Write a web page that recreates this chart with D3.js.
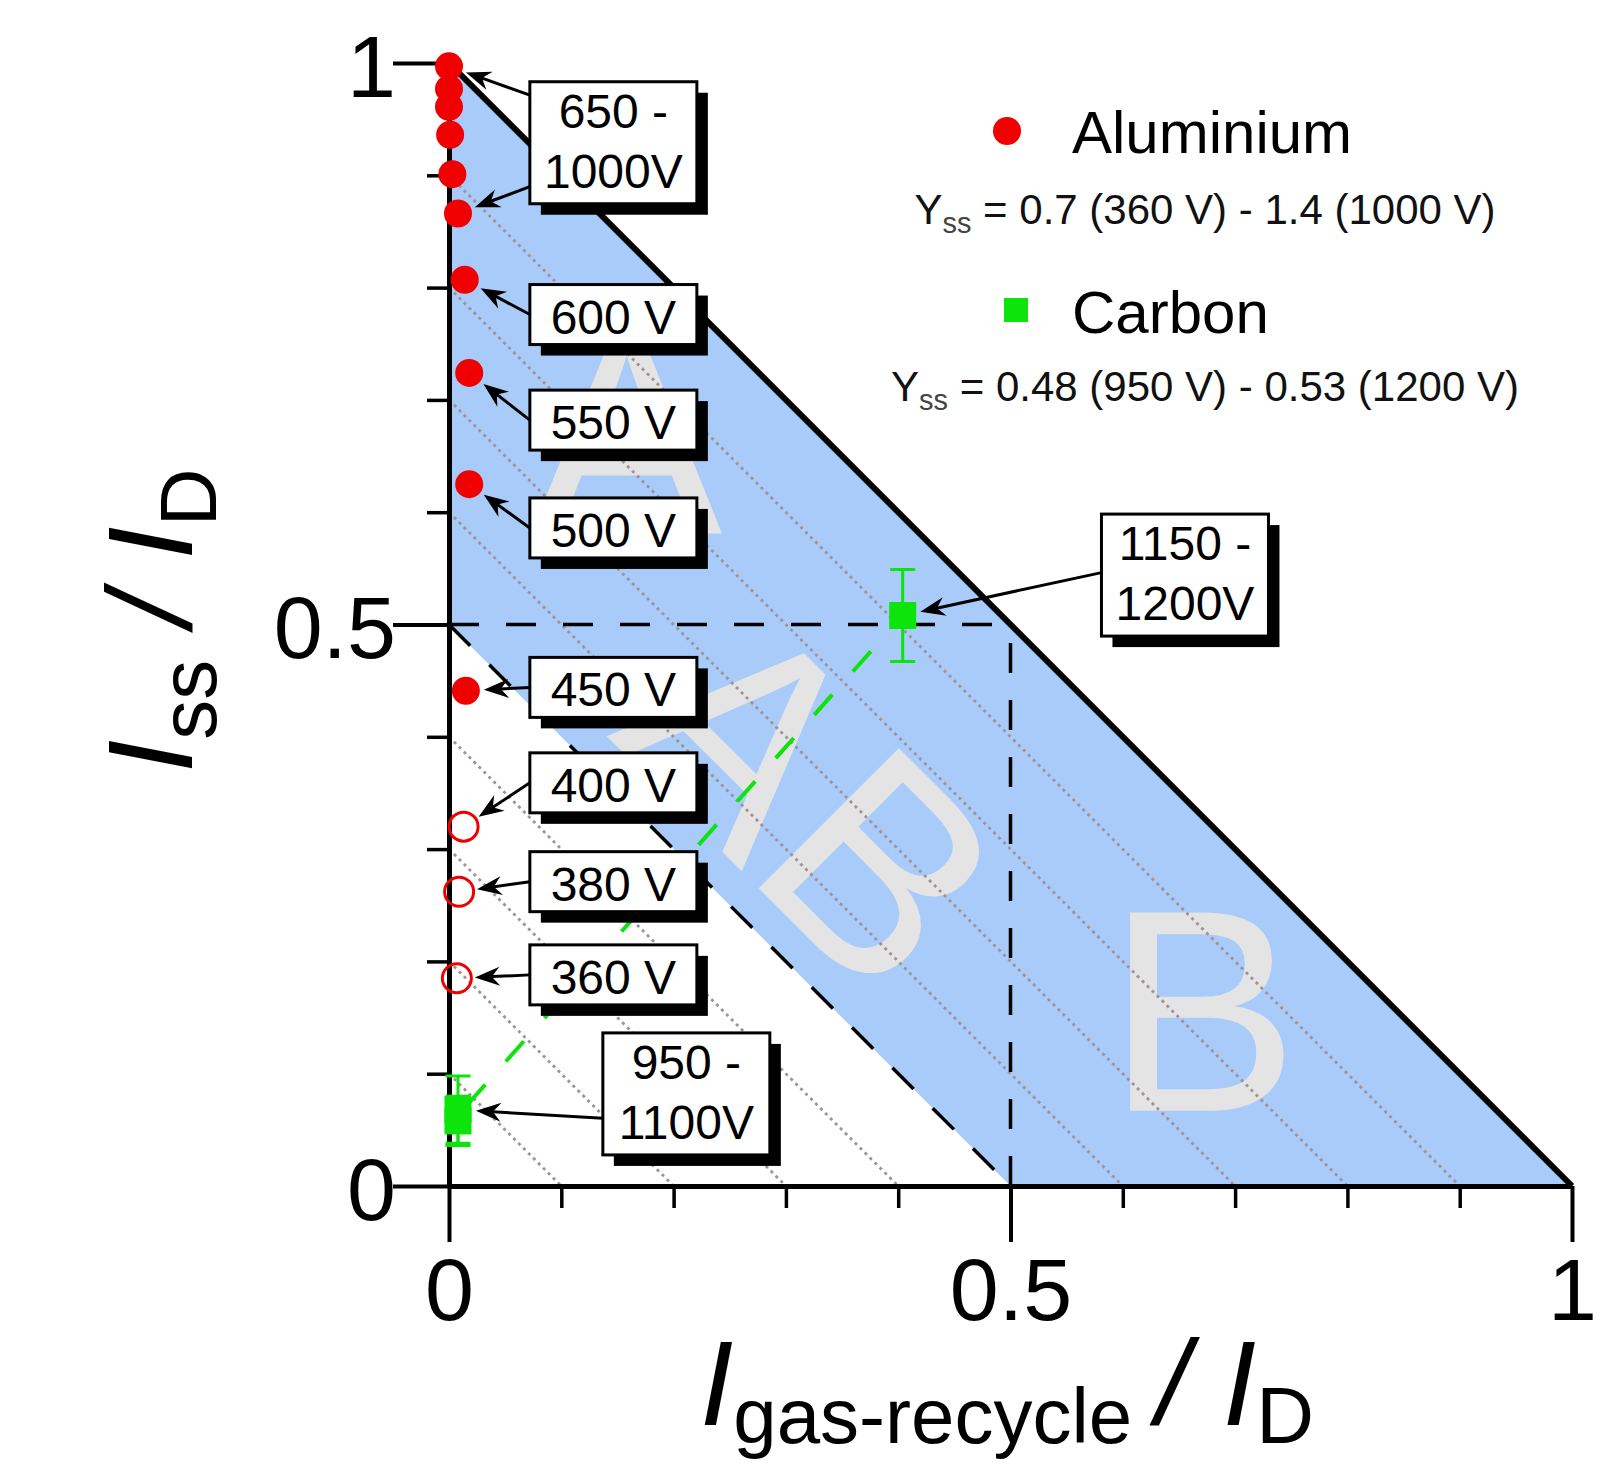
<!DOCTYPE html>
<html>
<head>
<meta http-equiv="Content-Type" content="text/html; charset=UTF-8" />
<title>Iss / ID vs Igas-recycle / ID</title>
<script type="text/javascript" src="https://d3js.org/d3.v7.min.js"></script>
<style type="text/css">
 body { margin: 0; background: #fff; }
 svg { display: block; font-family: Arial, "Liberation Sans", Helvetica, sans-serif; }
 .axis path, .axis line { stroke: #000; }
 .axis text { fill: #000; }
</style>
</head>
<body>
<script type="text/javascript">

 var width = 1620;
 var height = 1467;

 // axis ticks
 var majorTicks = [0, 0.5, 1];
 var minorTicks = [0.1, 0.2, 0.3, 0.4, 0.6, 0.7, 0.8, 0.9];

 // iso lines x + y = c (grey dotted)
 var isoLevels = [0.1, 0.2, 0.3, 0.4, 0.6, 0.7, 0.8, 0.9];

 // shaded band 0.5 <= x + y <= 1
 var bandCorners = [[0, 0.5], [0, 1], [1, 0], [0.5, 0]];
 var boundary = [[0, 1], [1, 0]];
 var guides = [
     [[0, 0.5], [0.5, 0.5]],
     [[0.5, 0], [0.5, 0.5]],
     [[0, 0.5], [0.5, 0]]
 ];

 // region letters
 var regionText = ['A', 'AB', 'B'];
 var regionX = [0.158, 0.261, 0.671];
 var regionY = [0.581, 0.280, 0.067];
 var regionRot = [0, 45, 0];

 // aluminium target
 var alX = [0.000, 0.000, 0.000, 0.001, 0.003, 0.008, 0.014, 0.018, 0.018, 0.015, 0.013, 0.009, 0.007];
 var alY = [0.997, 0.977, 0.961, 0.936, 0.901, 0.866, 0.807, 0.724, 0.625, 0.441, 0.320, 0.262, 0.185];
 var alOpen = [false, false, false, false, false, false, false, false, false, false, true, true, true];

 // carbon target
 var cX = [0.008, 0.008, 0.404];
 var cY = [0.068, 0.058, 0.508];
 var cErr = [0.030, 0.022, 0.041];

 // voltage call-outs
 var labelText = [['650 -', '1000V'], ['600 V'], ['550 V'], ['500 V'], ['450 V'],
                  ['400 V'], ['380 V'], ['360 V'], ['950 -', '1100V'], ['1150 -', '1200V']];
 var labelX = [0.072, 0.072, 0.072, 0.072, 0.072, 0.072, 0.072, 0.072, 0.137, 0.581];
 var labelY = [0.929, 0.776, 0.682, 0.586, 0.444, 0.359, 0.271, 0.188, 0.082, 0.544];
 // [label index, start position on box edge (0 top .. 1 bottom), series, point index]
 var arrows = [[0, 0.11, 'al', 0], [0, 0.86, 'al', 5], [1, 0.5, 'al', 6], [2, 0.5, 'al', 7],
               [3, 0.5, 'al', 8], [4, 0.5, 'al', 9], [5, 0.5, 'al', 10], [6, 0.5, 'al', 11],
               [7, 0.5, 'al', 12], [8, 0.7, 'c', 0], [9, 0.48, 'c', 2]];

 var legendNames = ['Aluminium', 'Carbon'];
 var legendYss = [' = 0.7 (360 V) - 1.4 (1000 V)', ' = 0.48 (950 V) - 0.53 (1200 V)'];

 var blue = '#a9cbfa';
 var red = '#f00000';
 var green = '#0ce40c';

 var x = d3.scaleLinear().domain([0, 1]).range([449, 1572]);
 var y = d3.scaleLinear().domain([0, 1]).range([1186, 63]);

 var svg = d3.select('body')
     .append('svg')
     .attr('width', width)
     .attr('height', height);

 var line = d3.line().x(d => x(d[0])).y(d => y(d[1]));

 svg.append('path')
     .datum(bandCorners)
     .attr('d', line.curve(d3.curveLinearClosed))
     .attr('fill', blue);
 line.curve(d3.curveLinear);

 svg.selectAll('.region')
     .data(regionText)
     .enter()
     .append('text')
     .attr('class', 'region')
     .attr('transform', (d, i) => 'translate(' + x(regionX[i]) + ',' + y(regionY[i]) + ') rotate(' + regionRot[i] + ')')
     .attr('text-anchor', 'middle')
     .attr('font-size', 288)
     .attr('fill', '#e4e4e4')
     .text(d => d);

 svg.selectAll('.iso')
     .data(isoLevels)
     .enter()
     .append('line')
     .attr('class', 'iso')
     .attr('x1', x(0))
     .attr('y1', d => y(d))
     .attr('x2', d => x(d))
     .attr('y2', y(0))
     .attr('stroke', '#a09393')
     .attr('stroke-width', 2.8)
     .attr('stroke-dasharray', '3,4');

 svg.selectAll('.guide')
     .data(guides)
     .enter()
     .append('path')
     .attr('class', 'guide')
     .attr('d', line)
     .attr('fill', 'none')
     .attr('stroke', '#000')
     .attr('stroke-width', 3.5)
     .attr('stroke-dasharray', '30,27');

 svg.append('path')
     .datum(boundary)
     .attr('d', line)
     .attr('stroke', '#000')
     .attr('stroke-width', 6);

 // axes: minor ticks, then major ticks with labels
 var fmt = d3.format('~g');

 var gxMinor = svg.append('g')
     .attr('class', 'axis')
     .attr('transform', 'translate(0,' + y(0) + ')')
     .call(d3.axisBottom(x).tickValues(minorTicks).tickSize(22).tickFormat(''));
 gxMinor.select('.domain').remove();
 gxMinor.selectAll('line').attr('stroke-width', 3.5);

 var gyMinor = svg.append('g')
     .attr('class', 'axis')
     .attr('transform', 'translate(' + x(0) + ',0)')
     .call(d3.axisLeft(y).tickValues(minorTicks).tickSize(22).tickFormat(''));
 gyMinor.select('.domain').remove();
 gyMinor.selectAll('line').attr('stroke-width', 3.5);

 var gx = svg.append('g')
     .attr('class', 'axis')
     .attr('transform', 'translate(0,' + y(0) + ')')
     .call(d3.axisBottom(x).tickValues(majorTicks).tickSize(56).tickSizeOuter(0).tickPadding(16).tickFormat(fmt));
 gx.attr('font-size', 88).attr('font-family', null);
 gx.select('.domain').attr('stroke-width', 5);
 gx.selectAll('line').attr('stroke-width', 4);

 var gy = svg.append('g')
     .attr('class', 'axis')
     .attr('transform', 'translate(' + x(0) + ',0)')
     .call(d3.axisLeft(y).tickValues(majorTicks).tickSize(56).tickSizeOuter(0).tickPadding(-3).tickFormat(fmt));
 gy.attr('font-size', 88).attr('font-family', null);
 gy.select('.domain').attr('stroke-width', 5);
 gy.selectAll('line').attr('stroke-width', 4);
 gy.selectAll('text').attr('dy', '0.38em');

 // carbon: guide line between the two points, error bars and squares
 svg.append('line')
     .attr('x1', x(cX[0]))
     .attr('y1', y((cY[0] + cY[1]) / 2))
     .attr('x2', x(cX[2]))
     .attr('y2', y(cY[2]))
     .attr('stroke', green)
     .attr('stroke-width', 4)
     .attr('stroke-dasharray', '27,31')
     .attr('stroke-dashoffset', -14);

 var carbon = svg.selectAll('.carbon')
     .data(cX)
     .enter()
     .append('g')
     .attr('class', 'carbon')
     .attr('transform', (d, i) => 'translate(' + x(d) + ',0)');

 carbon.append('path')
     .attr('d', (d, i) => {
         var t = y(cY[i] + cErr[i]), b = y(cY[i] - cErr[i]);
         return 'M-12.5,' + t + 'H12.5M0,' + t + 'V' + b + 'M-12.5,' + b + 'H12.5';
     })
     .attr('stroke', green)
     .attr('stroke-width', 3)
     .attr('fill', 'none');

 carbon.append('rect')
     .attr('x', -13.5)
     .attr('y', (d, i) => y(cY[i]) - 13.5)
     .attr('width', 27)
     .attr('height', 27)
     .attr('fill', green);

 // aluminium points
 svg.selectAll('.al')
     .data(alX)
     .enter()
     .append('circle')
     .attr('class', 'al')
     .attr('cx', d => x(d))
     .attr('cy', (d, i) => y(alY[i]))
     .attr('r', (d, i) => alOpen[i] ? 14.5 : 14)
     .attr('fill', (d, i) => alOpen[i] ? 'none' : red)
     .attr('stroke', (d, i) => alOpen[i] ? red : 'none')
     .attr('stroke-width', 3);

 // call-out boxes
 var boxW = 167;
 function boxH(i) { return labelText[i].length > 1 ? 122 : 60; }
 function boxTop(i) { return y(labelY[i]) - boxH(i) / 2; }

 var boxes = svg.selectAll('.callout')
     .data(labelText)
     .enter()
     .append('g')
     .attr('class', 'callout')
     .attr('transform', (d, i) => 'translate(' + x(labelX[i]) + ',' + boxTop(i) + ')');

 boxes.append('rect')
     .attr('x', 11)
     .attr('y', 11)
     .attr('width', boxW)
     .attr('height', (d, i) => boxH(i))
     .attr('fill', '#000');

 boxes.append('rect')
     .attr('width', boxW)
     .attr('height', (d, i) => boxH(i))
     .attr('fill', '#fff')
     .attr('stroke', '#000')
     .attr('stroke-width', 3);

 boxes.each(function (d) {
     var g = d3.select(this);
     d.forEach(function (t, k) {
         g.append('text')
             .attr('x', boxW / 2)
             .attr('y', d.length > 1 ? 46 + k * 60 : 49)
             .attr('text-anchor', 'middle')
             .attr('font-size', 48)
             .text(t);
     });
 });

 // arrows from boxes to points
 arrows.forEach(function (a) {
     var i = a[0];
     var sx = x(labelX[i]);
     var sy = boxTop(i) + a[1] * boxH(i);
     var px = a[2] === 'al' ? x(alX[a[3]]) : x(cX[a[3]]);
     var py = a[2] === 'al' ? y(alY[a[3]]) : y(cY[a[3]]);
     var dx = sx - px, dy = sy - py;
     var len = Math.sqrt(dx * dx + dy * dy);
     var ux = dx / len, uy = dy / len;
     var tx = px + ux * 18, ty = py + uy * 18;
     var L = 25, W = 9.5;
     svg.append('line')
         .attr('x1', sx)
         .attr('y1', sy)
         .attr('x2', tx + ux * 12)
         .attr('y2', ty + uy * 12)
         .attr('stroke', '#000')
         .attr('stroke-width', 3);
     svg.append('path')
         .attr('d', 'M' + tx + ',' + ty +
               'L' + (tx + ux * L - uy * W) + ',' + (ty + uy * L + ux * W) +
               'L' + (tx + ux * L * 0.68) + ',' + (ty + uy * L * 0.68) +
               'L' + (tx + ux * L + uy * W) + ',' + (ty + uy * L - ux * W) + 'Z')
         .attr('fill', '#000');
 });

 // legend
 var legend = svg.append('g');
 legend.append('circle')
     .attr('cx', 1007)
     .attr('cy', 131)
     .attr('r', 14)
     .attr('fill', red);
 legend.append('rect')
     .attr('x', 1004)
     .attr('y', 298)
     .attr('width', 24)
     .attr('height', 24)
     .attr('fill', green);

 legend.selectAll('.lname')
     .data(legendNames)
     .enter()
     .append('text')
     .attr('class', 'lname')
     .attr('x', 1072)
     .attr('y', (d, i) => i === 0 ? 153 : 333)
     .attr('font-size', 60)
     .text(d => d);

 var yss = legend.selectAll('.yss')
     .data(legendYss)
     .enter()
     .append('text')
     .attr('class', 'yss')
     .attr('x', 1205)
     .attr('y', (d, i) => i === 0 ? 224 : 401)
     .attr('text-anchor', 'middle')
     .attr('font-size', 42)
     .attr('fill', '#111');
 yss.append('tspan').text('Y');
 yss.append('tspan').attr('font-size', 29).attr('dy', 9).attr('fill', '#444').text('ss');
 yss.append('tspan').attr('dy', -9).text(d => d);

 // axis titles
 var xt = svg.append('text')
     .attr('x', 700)
     .attr('y', 1425)
     .attr('font-size', 120);
 xt.append('tspan').attr('font-style', 'italic').text('I');
 xt.append('tspan').attr('font-size', 78).attr('dy', 18).text('gas-recycle');
 xt.append('tspan').attr('font-style', 'italic').attr('dy', -18).text('\u2009/ ');
 xt.append('tspan').attr('font-style', 'italic').text('I');
 xt.append('tspan').attr('font-size', 80).attr('dy', 18).text('D');

 var yt = svg.append('text')
     .attr('transform', 'translate(192,773) rotate(-90)')
     .attr('font-size', 120);
 yt.append('tspan').attr('font-style', 'italic').text('I');
 yt.append('tspan').attr('font-size', 80).attr('dy', 24).text('ss');
 yt.append('tspan').attr('font-style', 'italic').attr('dy', -24).text(' / ');
 yt.append('tspan').attr('font-style', 'italic').text('I');
 yt.append('tspan').attr('font-size', 80).attr('dy', 24).text('D');

</script>
</body>
</html>
